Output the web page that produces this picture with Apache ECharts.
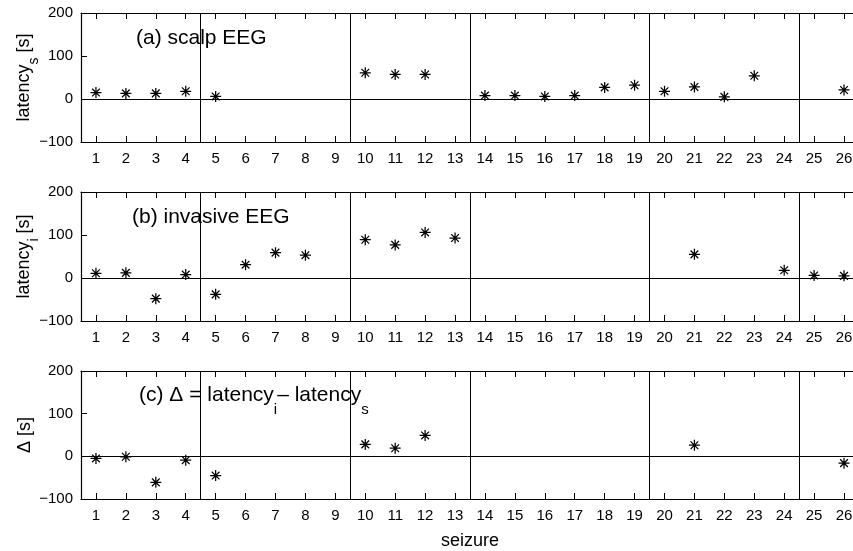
<!DOCTYPE html>
<html><head><meta charset="utf-8">
<script src="https://cdn.jsdelivr.net/npm/echarts@6/dist/echarts.min.js"></script>
<style>html,body{margin:0;padding:0;background:#fff}#c{width:853px;height:551px}</style>
</head><body><div id="c"></div>
<script>
// ---- data ----
const seizures = [1,2,3,4,5,6,7,8,9,10,11,12,13,14,15,16,17,18,19,20,21,22,23,24,25,26];
const latencyScalp    = [15,13,13,18,6,null,null,null,null,61,57,57,null,8,8,6,8,27,32,18,28,5,54,null,null,21];
const latencyInvasive = [11,12,-48,8,-38,31,59,53,null,89,77,106,93,null,null,null,null,null,null,null,55,null,null,18,6,5];
const latencyDelta    = [-5,-1,-61,-9,-45,null,null,null,null,28,19,49,null,null,null,null,null,null,null,null,26,null,null,null,null,-16];
const groupBoundaries = [4.5, 9.5, 13.5, 19.5, 24.5];
const yTicks = [-100, 0, 100, 200];
const xName = 'seizure';

// ---- layout ----
const FONT = '"Liberation Sans", Arial, Helvetica, sans-serif';
const gridTops = [13, 192, 371];
const gridHeights = [129, 129, 128];
const black = '#000';
const asterisk = 'path://M5,0L5,10M0,5L10,5M1.5,1.5L8.5,8.5M1.5,8.5L8.5,1.5';

const fmtY = v => v < 0 ? '\u2212' + Math.abs(v) : String(v);
const seriesData = [latencyScalp, latencyInvasive, latencyDelta];
const yNameRich = [
  '{m|latency}{s|s}{m| [s]}',
  '{m|latency}{s|i}{m| [s]}',
  '{m|Δ [s]}'
];

const grids = [], xAxes = [], yAxes = [], series = [];
for (let i = 0; i < 3; i++) {
  grids.push({left: 81, right: -6, top: gridTops[i], height: gridHeights[i], outerBoundsMode: 'none'});
  const tick = {inside: true, length: 6, lineStyle: {color: black, width: 1}};
  xAxes.push({
    gridIndex: i, type: 'value', min: 0.5, max: 26.5, position: 'bottom',
    axisLine: {show: true, onZero: false, lineStyle: {color: black, width: 1.2}},
    axisTick: Object.assign({customValues: seizures}, tick),
    axisLabel: {customValues: seizures, fontSize: 15, color: black, fontFamily: FONT, margin: 9},
    splitLine: {show: false},
    name: i === 2 ? xName : '', nameLocation: 'middle', nameGap: 33, nameMoveOverlap: false,
    nameTextStyle: {fontSize: 18, color: black, fontFamily: FONT}
  });
  xAxes.push({
    gridIndex: i, type: 'value', min: 0.5, max: 26.5, position: 'top',
    axisLine: {show: true, onZero: false, lineStyle: {color: black, width: 1.2}},
    axisTick: Object.assign({customValues: seizures}, tick),
    axisLabel: {show: false}, splitLine: {show: false}
  });
  yAxes.push({
    gridIndex: i, type: 'value', min: yTicks[0], max: yTicks[yTicks.length - 1], interval: 100, position: 'left',
    axisLine: {show: true, onZero: false, lineStyle: {color: black, width: 1.2}},
    axisTick: tick,
    axisLabel: {formatter: fmtY, fontSize: 15, color: black, fontFamily: FONT, margin: 8},
    splitLine: {show: false},
    name: yNameRich[i], nameLocation: 'middle', nameRotate: 90, nameGap: i === 2 ? 39 : 40,
    nameMoveOverlap: false,
    nameTextStyle: {
      color: black, fontFamily: FONT,
      rich: {
        m: {fontSize: 18, lineHeight: 34, verticalAlign: 'middle', color: black, fontFamily: FONT},
        s: {fontSize: 14, lineHeight: 34, verticalAlign: 'bottom', color: black, fontFamily: FONT}
      }
    }
  });
  yAxes.push({
    gridIndex: i, type: 'value', min: yTicks[0], max: yTicks[yTicks.length - 1], interval: 100, position: 'right',
    axisLine: {show: true, onZero: false, lineStyle: {color: black, width: 1.2}},
    axisTick: tick, axisLabel: {show: false}, splitLine: {show: false}
  });
  const data = [];
  seriesData[i].forEach((v, k) => { if (v !== null) data.push([seizures[k], v]); });
  series.push({
    type: 'scatter', xAxisIndex: 2 * i, yAxisIndex: 2 * i,
    data: data, symbol: asterisk, symbolSize: 11,
    itemStyle: {color: 'rgba(0,0,0,0)', borderColor: black, borderWidth: 1.25, opacity: 1},
    markLine: {
      silent: true, symbol: ['none', 'none'], label: {show: false},
      lineStyle: {color: black, width: 1, type: 'solid'},
      emphasis: {disabled: true},
      data: groupBoundaries.map(b => ({xAxis: b})).concat([{yAxis: 0}])
    },
    z: 5
  });
}

const labelPos = [[136, 38], [132, 217], [139, 395]];
const graphics = [
  {type: 'text', x: labelPos[0][0], y: labelPos[0][1], z: 10,
   style: {text: '(a) scalp EEG', fontSize: 21, fontFamily: FONT, fill: black, verticalAlign: 'middle', align: 'left'}},
  {type: 'text', x: labelPos[1][0], y: labelPos[1][1], z: 10,
   style: {text: '(b) invasive EEG', fontSize: 21, fontFamily: FONT, fill: black, verticalAlign: 'middle', align: 'left'}},
  {type: 'text', x: labelPos[2][0], y: labelPos[2][1], z: 10,
   style: {text: '{m|(c) Δ = latency}{s|i}{m|– latency}{s|s}', fontFamily: FONT, fill: black, verticalAlign: 'middle', align: 'left',
     rich: {
       m: {fontSize: 21, lineHeight: 44, verticalAlign: 'middle', fill: black, fontFamily: FONT},
       s: {fontSize: 15, lineHeight: 44, verticalAlign: 'bottom', fill: black, fontFamily: FONT}
     }}}
];

const chart = echarts.init(document.getElementById('c'), null, {renderer: 'canvas'});
chart.setOption({
  animation: false,
  backgroundColor: '#fff',
  grid: grids, xAxis: xAxes, yAxis: yAxes, series: series,
  graphic: graphics
});
</script></body></html>
